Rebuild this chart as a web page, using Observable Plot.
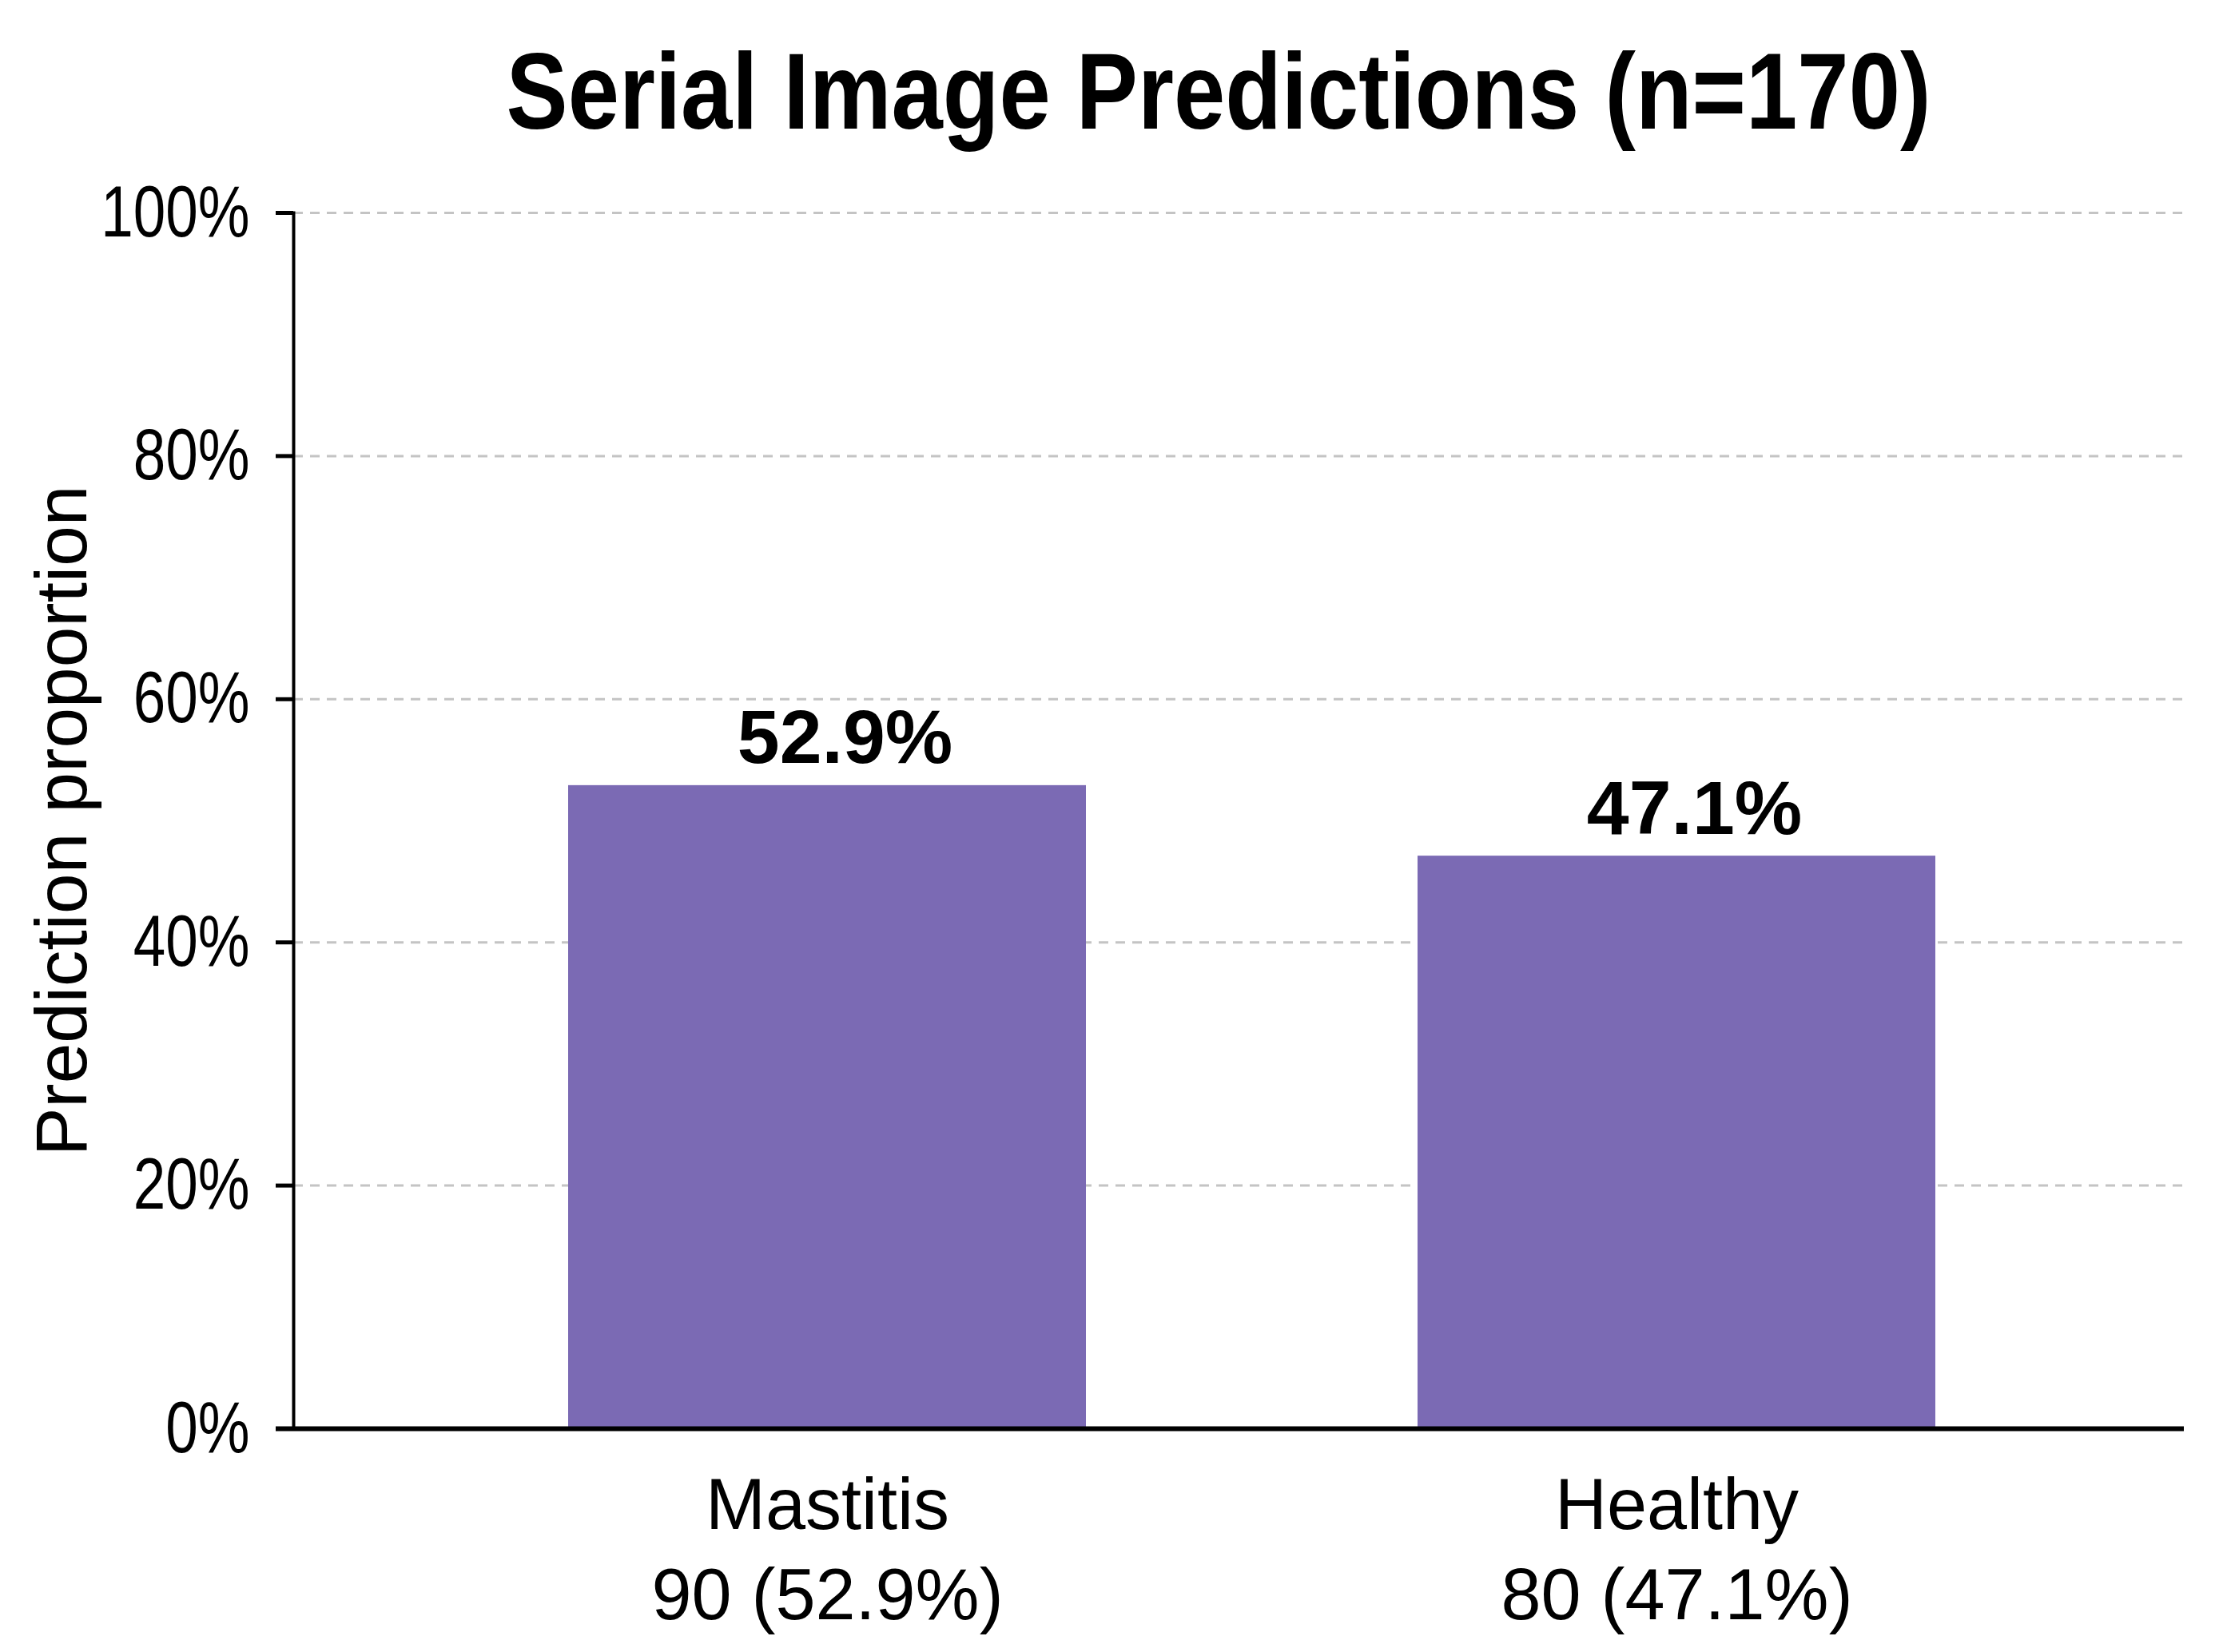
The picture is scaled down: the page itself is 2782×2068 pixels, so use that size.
<!DOCTYPE html>
<html>
<head>
<meta charset="utf-8">
<script src="https://cdn.jsdelivr.net/npm/d3@7"></script>
<script src="https://cdn.jsdelivr.net/npm/@observablehq/plot@0.6"></script>
<style>
  html, body { margin: 0; padding: 0; background: #ffffff; }
  #wrap { width: 2782px; height: 2068px; position: relative; background: #fff; }
  #title {
    position: relative; height: 200px; width: 2782px;
  }
  #title span {
    position: absolute; left: 1525px; top: 46px; transform: translateX(-50%) scaleX(0.85);
    font-family: "Liberation Sans", Arial, sans-serif;
    font-weight: bold; font-size: 136px; line-height: 1; white-space: nowrap; color: #000;
  }
</style>
</head>
<body>
<div id="wrap">
  <div id="title"><span>Serial Image Predictions (n=170)</span></div>
  <div id="chart"></div>
</div>
<script>
const categories = ["Mastitis", "Healthy"];
const counts = [90, 80];
const proportions = [0.529, 0.471];
const yTicks = [0, 0.2, 0.4, 0.6, 0.8, 1.0];
const gridTicks = [0.2, 0.4, 0.6, 0.8, 1.0];
const barColor = "#7b6ab4";

const data = categories.map((c, i) => ({category: c, count: counts[i], proportion: proportions[i]}));
const pct = d3.format(".1%");
const lookup = new Map(data.map(d => [d.category, d]));

const chart = Plot.plot({
  width: 2782,
  height: 1868,
  marginTop: 66,
  marginBottom: 280,
  marginLeft: 367,
  marginRight: 49,
  style: {fontFamily: "'Liberation Sans', Arial, sans-serif", background: "#fff", color: "#000"},
  x: {domain: categories, paddingInner: 0.39, paddingOuter: 0.307, align: 0.525},
  y: {domain: [0, 1]},
  marks: [
    Plot.gridY(gridTicks, {stroke: "#c4c4c4", strokeOpacity: 1, strokeWidth: 3, strokeDasharray: "12,9"}),
    Plot.barY(data, {x: "category", y: "proportion", fill: barColor}),
    Plot.text(data, {
      x: "category", y: "proportion", text: d => pct(d.proportion),
      fontWeight: "bold", fontSize: 95, lineAnchor: "bottom", dy: -28, dx: 22, fill: "#000"
    }),
    Plot.axisY({
      ticks: yTicks, tickFormat: d3.format(".0%"), tickSize: 22, tickPadding: 33,
      strokeWidth: 5, fontSize: 91, label: "Prediction proportion", labelAnchor: "center",
      labelOffset: 324, labelArrow: false
    }),
    Plot.axisX({
      tickSize: 0, tickPadding: 46, fontSize: 90, lineHeight: 1.25, label: null,
      tickFormat: d => `${d}\n${lookup.get(d).count} (${pct(lookup.get(d).proportion)})`
    }),
    Plot.frame({anchor: "left", strokeWidth: 4, stroke: "#000"}),
    Plot.ruleY([0], {stroke: "#000", strokeWidth: 6, insetLeft: -22})
  ]
});
document.getElementById("chart").appendChild(chart);

// Narrow the y-axis tick labels horizontally (condensed look), anchored at their right edge.
chart.querySelectorAll('[aria-label="y-axis tick label"] text').forEach(t => {
  const tr = t.getAttribute("transform");
  if (tr) {
    t.setAttribute("transform", tr + " scale(0.8,1)");
  } else {
    const x = +t.getAttribute("x") || 0, y = +t.getAttribute("y") || 0;
    t.removeAttribute("x"); t.removeAttribute("y");
    t.setAttribute("transform", `translate(${x},${y}) scale(0.8,1)`);
  }
});
</script>
</body>
</html>
